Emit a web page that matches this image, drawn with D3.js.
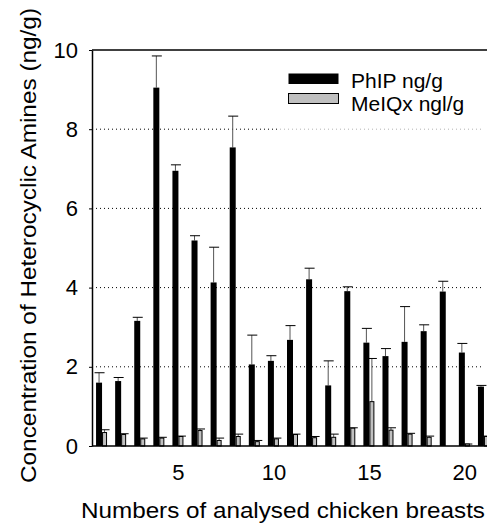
<!DOCTYPE html>
<html>
<head>
<meta charset="utf-8">
<script src="https://d3js.org/d3.v7.min.js"></script>
<style>
  body { margin: 0; background: #fff; }
  text { font-family: "Liberation Sans", Arial, sans-serif; fill: #000; }
</style>
</head>
<body>
<script>
  // values
  let samples = d3.range(1, 22);
  let phip    = [1.60, 1.64, 3.16, 9.05, 6.95, 5.19, 4.13, 7.54, 2.06, 2.15, 2.68, 4.21, 1.53, 3.91, 2.61, 2.27, 2.63, 2.90, 3.90, 2.36, 1.50];
  let phipErr = [0.25, 0.09, 0.09, 0.80, 0.15, 0.12, 0.89, 0.79, 0.74, 0.13, 0.36, 0.28, 0.62, 0.11, 0.36, 0.19, 0.89, 0.16, 0.26, 0.23, 0.03];
  let meiqx    = [0.34, 0.29, 0.18, 0.20, 0.24, 0.39, 0.14, 0.24, 0.11, 0.18, 0.29, 0.21, 0.22, 0.45, 1.12, 0.40, 0.30, 0.22, 0.00, 0.05, 0.24];
  let meiqxErr = [0.07, 0.02, 0.02, 0.02, 0.01, 0.04, 0.06, 0.06, 0.03, 0.02, 0.01, 0.03, 0.08, 0.01, 1.09, 0.06, 0.02, 0.03, 0.00, 0.00, 0.01];
  let xTicks = [5, 10, 15, 20];
  let yTicks = [0, 2, 4, 6, 8, 10];
  let seriesNames = ["PhIP ng/g", "MeIQx ngl/g"];

  let width = 487, height = 524;
  let plotLeft = 92, plotTop = 50, plotBottom = 446, plotRight = 493;

  let svg = d3.select("body").append("svg")
    .attr("width", width)
    .attr("height", height);

  let x = d3.scaleLinear().domain([0.5, 21.5]).range([plotLeft, plotRight]);
  let y = d3.scaleLinear().domain([0, 10]).range([plotBottom, plotTop]);

  // dotted grid
  svg.selectAll(".grid")
    .data([2, 4, 6, 8])
    .enter().append("line")
      .attr("x1", plotLeft).attr("x2", 483)
      .attr("y1", d => y(d)).attr("y2", d => y(d))
      .attr("stroke", "#000")
      .attr("stroke-width", 1)
      .attr("stroke-dasharray", "1,3");

  // legend backdrop softens the grid under it
  svg.append("rect")
    .attr("x", 278).attr("y", 60).attr("width", 209).attr("height", 71)
    .attr("fill", "#fff").attr("opacity", 0.7);

  let bw = 6, gw = 5;

  // PhIP error bars
  let pe = svg.append("g");
  samples.forEach(function (s, i) {
    let cx = x(s) - 2.5;
    pe.append("line")
      .attr("x1", cx).attr("x2", cx)
      .attr("y1", y(phip[i])).attr("y2", y(phip[i] + phipErr[i]))
      .attr("stroke", "#555").attr("stroke-width", 1);
    pe.append("line")
      .attr("x1", cx - 4.5).attr("x2", cx + 5.5)
      .attr("y1", y(phip[i] + phipErr[i])).attr("y2", y(phip[i] + phipErr[i]))
      .attr("stroke", "#000").attr("stroke-width", 1);
  });

  // MeIQx error bars
  let me = svg.append("g");
  samples.forEach(function (s, i) {
    if (meiqx[i] <= 0) return;
    let cx = x(s) + 3;
    me.append("line")
      .attr("x1", cx).attr("x2", cx)
      .attr("y1", y(meiqx[i])).attr("y2", y(meiqx[i] + meiqxErr[i]))
      .attr("stroke", "#555").attr("stroke-width", 1);
    me.append("line")
      .attr("x1", cx - 3.5).attr("x2", cx + 5)
      .attr("y1", y(meiqx[i] + meiqxErr[i])).attr("y2", y(meiqx[i] + meiqxErr[i]))
      .attr("stroke", "#000").attr("stroke-width", 1);
  });

  // bars
  svg.selectAll(".phip")
    .data(samples)
    .enter().append("rect")
      .attr("x", d => x(d) - bw + 0.5)
      .attr("y", (d, i) => y(phip[i]))
      .attr("width", bw)
      .attr("height", (d, i) => plotBottom - y(phip[i]))
      .attr("fill", "#000");

  svg.selectAll(".meiqx")
    .data(samples)
    .enter().append("rect")
      .attr("x", d => x(d) + 1)
      .attr("y", (d, i) => y(meiqx[i]))
      .attr("width", gw - 1)
      .attr("height", (d, i) => plotBottom - y(meiqx[i]))
      .attr("fill", "#c0c0c0")
      .attr("stroke", "#000")
      .attr("stroke-width", 1);

  // frame
  svg.append("line").attr("x1", plotLeft).attr("x2", width).attr("y1", plotTop).attr("y2", plotTop)
    .attr("stroke", "#000").attr("stroke-width", 1.5);

  let yAxis = svg.append("g")
    .attr("transform", "translate(" + plotLeft + ",0)")
    .call(d3.axisLeft(y).tickValues(yTicks).tickSize(3).tickPadding(11).tickSizeOuter(0));
  yAxis.select(".domain").attr("stroke-width", 1.5);
  yAxis.selectAll("text").style("font-size", "22px").style("font-family", "Liberation Sans, Arial");

  let xAxis = svg.append("g")
    .attr("transform", "translate(0," + plotBottom + ")")
    .call(d3.axisBottom(x).tickValues(xTicks).tickSize(0).tickPadding(18).tickSizeOuter(0));
  xAxis.select(".domain").attr("stroke-width", 1.5).attr("d", "M" + plotLeft + ",0H" + width);
  xAxis.selectAll("text").style("font-size", "22px").style("font-family", "Liberation Sans, Arial");

  // legend
  let legend = svg.append("g");
  legend.append("rect").attr("x", 288.5).attr("y", 73.5).attr("width", 50).attr("height", 10.5)
    .attr("fill", "#000");
  legend.append("rect").attr("x", 288.5).attr("y", 93.5).attr("width", 50).attr("height", 10)
    .attr("fill", "#c0c0c0").attr("stroke", "#000").attr("stroke-width", 1);
  legend.selectAll(".lt")
    .data(seriesNames)
    .enter().append("text")
      .attr("x", 351)
      .attr("y", (d, i) => 87.5 + i * 23)
      .style("font-size", "21px")
      .text(d => d);

  // axis titles
  svg.append("text")
    .attr("transform", "translate(36,245.5) rotate(-90)")
    .attr("text-anchor", "middle")
    .attr("textLength", 475)
    .attr("lengthAdjust", "spacingAndGlyphs")
    .style("font-size", "22px")
    .text("Concentration of Heterocyclic Amines (ng/g)");

  svg.append("text")
    .attr("x", 81)
    .attr("y", 518)
    .attr("textLength", 404)
    .attr("lengthAdjust", "spacingAndGlyphs")
    .style("font-size", "22px")
    .text("Numbers of analysed chicken breasts");
</script>
</body>
</html>
